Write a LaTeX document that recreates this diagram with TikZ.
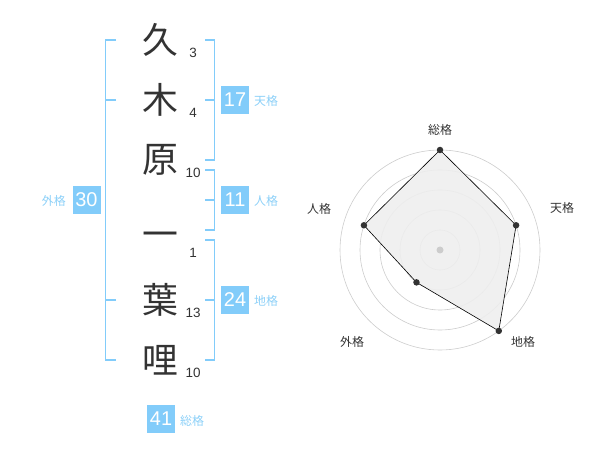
\documentclass[tikz,border=0pt]{standalone}
\usepackage{fontspec}
\setmainfont{Liberation Sans}
\newfontfamily\jp{Noto Sans CJK JP}
\definecolor{brk}{RGB}{130,204,250}
\definecolor{boxc}{RGB}{130,204,250}
\definecolor{lbl}{RGB}{140,208,248}
\definecolor{ink}{RGB}{51,51,51}
\definecolor{gridc}{RGB}{204,204,204}
\definecolor{fillc}{RGB}{238,238,238}
\tikzset{
  kanji/.style={font=\jp\fontsize{36}{36}\selectfont, text=ink, inner sep=0pt},
  strokes/.style={font=\fontsize{13.5}{13.5}\selectfont, text=ink, inner sep=0pt},
  numbox/.style={fill=boxc, text=white, minimum width=28bp, minimum height=28bp, inner sep=0pt, font=\fontsize{20}{20}\selectfont},
  kaku/.style={font=\jp\fontsize{12}{12}\selectfont, text=lbl, inner sep=0pt},
  brline/.style={draw=brk, line width=1.6bp},
  radlbl/.style={font=\jp\fontsize{12}{12}\selectfont, text=ink, inner sep=0pt},
  ring/.style={draw=gridc, line width=0.6bp},
  dot/.style={circle, fill=ink, inner sep=0pt, minimum size=6.5bp},
}
\begin{document}
\begin{tikzpicture}[x=1bp,y=-1bp]
\useasboundingbox (0,0) rectangle (600,470);
% characters
\node[kanji] (c1) at (160,40) {久};
\node[kanji] (c2) at (160,100) {木};
\node[kanji] (c3) at (160,160) {原};
\node[kanji] (c4) at (160,240) {一};
\node[kanji] (c5) at (160,300) {葉};
\node[kanji] (c6) at (160,360) {哩};
% stroke counts
\node[strokes] (s1) at (193,53) {3};
\node[strokes] (s2) at (193,113) {4};
\node[strokes] (s3) at (193,173) {10};
\node[strokes] (s4) at (193,253) {1};
\node[strokes] (s5) at (193,313) {13};
\node[strokes] (s6) at (193,373) {10};
% left bracket (gaikaku)
\coordinate (lt) at (116,40);
\coordinate (lu) at (116,100);
\coordinate (ll) at (116,300);
\coordinate (lb) at (116,360);
\draw[brline] (lt) -- (105.5,40) -- (105.5,360) -- (lb);
\draw[brline] (lu) -- (105.5,100);
\draw[brline] (ll) -- (105.5,300);
% right brackets
\coordinate (ta) at (205,40);
\coordinate (tm) at (205,100);
\coordinate (tb) at (205,160);
\draw[brline] (ta) -- (214.5,40) -- (214.5,160) -- (tb);
\draw[brline] (tm) -- (214.5,100);
\coordinate (ja) at (205,170);
\coordinate (jm) at (205,200);
\coordinate (jb) at (205,230);
\draw[brline] (ja) -- (214.5,170) -- (214.5,230) -- (jb);
\draw[brline] (jm) -- (214.5,200);
\coordinate (ca) at (205,240);
\coordinate (cm) at (205,300);
\coordinate (cb) at (205,360);
\draw[brline] (ca) -- (214.5,240) -- (214.5,360) -- (cb);
\draw[brline] (cm) -- (214.5,300);
% boxes and labels
\node[numbox] (b17) at (235,100) {17};
\node[kaku, anchor=west] (k17) at (254,101) {天格};
\node[numbox] (b11) at (235,200) {11};
\node[kaku, anchor=west] (k11) at (254,201) {人格};
\node[numbox] (b24) at (235,300) {24};
\node[kaku, anchor=west] (k24) at (254,301) {地格};
\node[numbox] (b30) at (86.5,200) {30};
\node[kaku, anchor=east] (k30) at (66,201) {外格};
\node[numbox] (b41) at (161,419) {41};
\node[kaku, anchor=west] (k41) at (180,421) {総格};
% radar chart
\begin{scope}[shift={(440,250)}, x=1bp, y=1bp]
  \foreach \r in {20,40,60,80,100} \draw[ring] (0,0) circle (\r);
  \coordinate (p1) at (90:100);
  \coordinate (p2) at (18:80);
  \coordinate (p3) at (-54:100);
  \coordinate (p4) at (-126:40);
  \coordinate (p5) at (162:80);
  \fill[fillc, fill opacity=0.9] (p1) -- (p2) -- (p3) -- (p4) -- (p5) -- cycle;
  \draw[black, line width=0.6bp] (p1) -- (p2) -- (p3) -- (p4) -- (p5) -- cycle;
  \node[circle, fill=gridc, inner sep=0pt, minimum size=7bp] (ctr) at (0,0) {};
  \node[dot] (d1) at (p1) {};
  \node[dot] (d2) at (p2) {};
  \node[dot] (d3) at (p3) {};
  \node[dot] (d4) at (p4) {};
  \node[dot] (d5) at (p5) {};
\end{scope}
\node[radlbl] (r1) at (440,130) {総格};
\node[radlbl] (r2) at (562,208) {天格};
\node[radlbl] (r3) at (319,209) {人格};
\node[radlbl] (r4) at (352,342) {外格};
\node[radlbl] (r5) at (523,342) {地格};
\end{tikzpicture}
\end{document}
